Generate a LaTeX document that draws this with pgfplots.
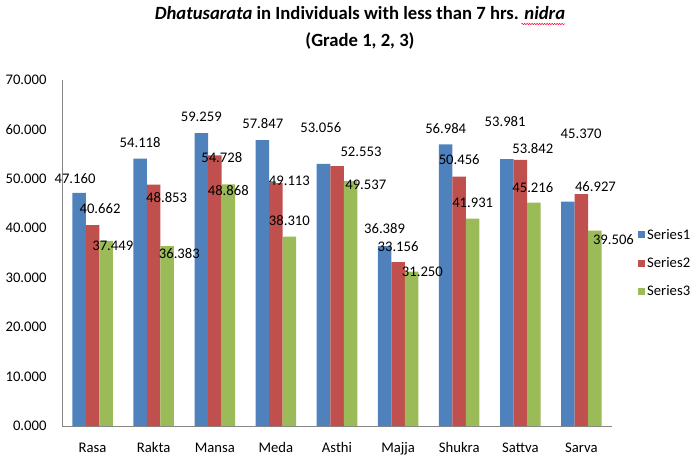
\documentclass[border=0pt]{standalone}
\usepackage{fontspec}
\setmainfont{Carlito}
\usepackage{pgfplots}
\pgfplotsset{compat=1.18}
\usepackage{pgfplotstable}
\usetikzlibrary{decorations.pathmorphing}
\definecolor{s1}{HTML}{4F81BD}
\definecolor{s2}{HTML}{C0504D}
\definecolor{s3}{HTML}{9BBB59}
\definecolor{axgray}{HTML}{868686}
\pgfplotsset{/pgf/number format/assume math mode=true}

\pgfplotstableread{
x y lx ly
0 47.160 -4.0 13.9
1 54.118 0.0 16.4
2 59.259 0.0 16.0
3 57.847 0.4 16.3
4 53.056 -2.7 35.7
5 36.389 0.0 17.6
6 56.984 0.0 16.2
7 53.981 -1.7 37.7
8 45.370 13.2 67.8
}\serA
\pgfplotstableread{
x y lx ly
0 40.662 7.5 16.1
1 48.853 13.0 -12.9
2 54.728 7.0 -1.6
3 49.113 13.5 2.5
4 52.553 24.0 14.5
5 33.156 0.0 15.6
6 50.456 0.0 16.6
7 53.842 12.5 11.8
8 46.927 14.0 7.1
}\serB
\pgfplotstableread{
x y lx ly
0 37.449 6.7 -5.3
1 36.383 12.2 -7.6
2 48.868 0.0 -6.2
3 38.310 0.0 16.1
4 49.537 15.3 -3.9
5 31.250 10.8 -0.2
6 41.931 0.0 15.8
7 45.216 -1.0 14.6
8 39.506 18.5 -8.8
}\serC

\begin{document}
\begin{tikzpicture}[x=1pt,y=1pt]
\useasboundingbox (0,0) rectangle (700,458);
\begin{axis}[
  at={(62pt,32pt)}, anchor=south west,
  width=550pt, height=346pt, scale only axis,
  xmin=-0.5, xmax=8.5, ymin=0, ymax=70,
  clip=false,
  ybar=0pt, bar width=13.5pt,
  axis x line*=bottom, axis y line*=left,
  axis line style={axgray, line width=0.8pt, -},
  major tick length=0pt,
  xtick={0,...,8},
  xticklabels={Rasa,Rakta,Mansa,Meda,Asthi,Majja,Shukra,Sattva,Sarva},
  ytick={0,10,...,70},
  y tick label style={/pgf/number format/fixed, /pgf/number format/fixed zerofill, /pgf/number format/precision=3},
  tick label style={font=\fontsize{14.67}{17}\selectfont},
  yticklabel style={anchor=east, xshift=-12pt},
  xticklabel style={anchor=base, yshift=-26pt},
  nodes near coords={\pgfmathprintnumber[fixed,fixed zerofill,precision=3]{\pgfplotspointmeta}},
  every node near coord/.append style={font=\fontsize{14.67}{17}\selectfont, anchor=center, xshift=\lx pt, yshift=\ly pt, inner sep=0pt},
  visualization depends on={\thisrow{lx} \as \lx},
  visualization depends on={\thisrow{ly} \as \ly},
  legend style={at={(1,0.471)}, anchor=west, xshift=26pt, draw=none, fill=none,
    font=\fontsize{14.67}{17}\selectfont, row sep=12.5pt, inner sep=0pt},
  legend cell align=left,
  legend image code/.code={\fill[#1] (0pt,-3.5pt) rectangle (7pt,3.5pt);},
]
\addplot[fill=s1, draw=none] table[x=x, y=y] {\serA};
\addplot[fill=s2, draw=none] table[x=x, y=y] {\serB};
\addplot[fill=s3, draw=none] table[x=x, y=y] {\serC};
\legend{Series1,Series2,Series3}
\end{axis}
\node[font=\bfseries\fontsize{18.67}{22}\selectfont, inner sep=0pt, anchor=base] (t1) at (360,438) {\textit{Dhatusarata} in Individuals with less than 7 hrs. \textit{nidra}};
\node[font=\bfseries\fontsize{18.67}{22}\selectfont, inner sep=0pt, anchor=base] at (360,411) {(Grade 1, 2, 3)};
\draw[red!85!magenta, line width=0.5pt, decorate, decoration={snake, amplitude=0.7pt, segment length=2.5pt}]
  ([xshift=-44pt, yshift=-4pt]t1.base east) -- ([yshift=-4pt]t1.base east);
\end{tikzpicture}
\end{document}
